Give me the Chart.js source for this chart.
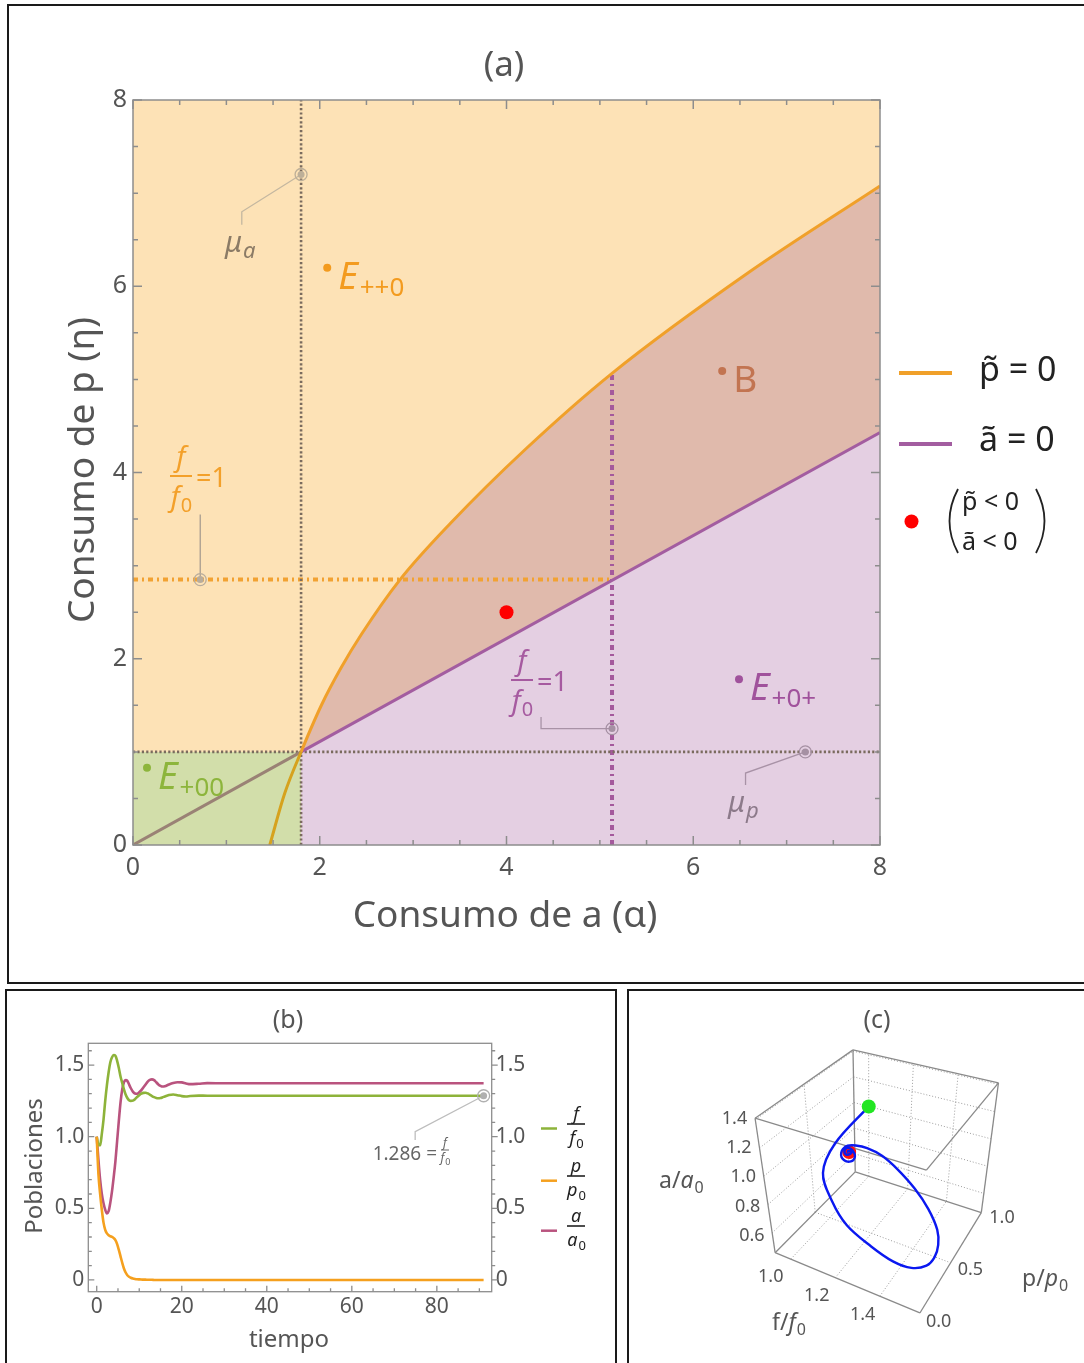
<!DOCTYPE html>
<html lang="es">
<head>
<meta charset="utf-8">
<title>Diagrama de fases</title>
<script src="https://cdn.jsdelivr.net/npm/chart.js@4.4.1/dist/chart.umd.min.js"></script>
<style>
  html, body { margin: 0; padding: 0; background: #fff; }
  body { position: relative; width: 1084px; height: 1363px; overflow: hidden; }
  canvas { position: absolute; }
  .marco { position: absolute; border: 2px solid #1a1a1a; box-sizing: border-box; pointer-events: none; }
</style>
</head>
<body>
<canvas id="chartA" width="1084" height="985" style="left:0;top:0"></canvas>
<canvas id="chartB" width="622" height="375" style="left:0;top:988px"></canvas>
<canvas id="chartC" width="462" height="375" style="left:622px;top:988px"></canvas>
<div class="marco" style="left:7px;top:4px;width:1080px;height:980px"></div>
<div class="marco" style="left:5px;top:989px;width:612px;height:380px"></div>
<div class="marco" style="left:627px;top:989px;width:460px;height:380px"></div>
<script>
// ---- (a) plano alfa-eta
const alphaP = [1.465, 1.625, 1.80, 2.02, 2.23, 2.45, 2.86, 3.4, 4.2, 5.13, 6.6, 8.0];
const etaP   = [0, 0.555, 1.0, 1.506, 1.905, 2.268, 2.85, 3.455, 4.247, 5.065, 6.153, 7.077];
const alphaA = [0, 1.80, 8];
const etaA   = [0, 1.0, 4.43];
const muA = 1.80, muP = 1.0;
const alphaF1 = 5.13, etaF1 = 2.85, etaTopeF1 = 5.065;
const puntoRojo = { x: 4.0, y: 2.5 };
const ticksA = [0, 2, 4, 6, 8];

// ---- (b) poblaciones en el tiempo
const tiempo = [0, 0.4, 0.8, 1.2, 1.6, 2.0, 2.4, 2.8, 3.2, 3.6, 4.0, 4.4, 4.8, 5.2, 5.6, 6.0, 6.4, 6.8, 7.2, 7.6,
  8.0, 8.5, 9.0, 9.5, 10, 10.5, 11, 11.5, 12, 12.5, 13, 13.5, 14, 14.5, 15, 15.5, 16, 17, 18, 19,
  20, 21, 22, 24, 26, 30, 40, 50, 60, 70, 80, 91];
const fVals = [1.0, 0.945, 0.94, 1.02, 1.12, 1.25, 1.36, 1.45, 1.52, 1.555, 1.57, 1.565, 1.53, 1.48, 1.42, 1.375, 1.33, 1.295, 1.27, 1.255,
  1.25, 1.252, 1.262, 1.277, 1.29, 1.30, 1.306, 1.307, 1.302, 1.293, 1.284, 1.276, 1.27, 1.268, 1.27, 1.275, 1.281, 1.291, 1.295, 1.29,
  1.283, 1.281, 1.284, 1.287, 1.286, 1.286, 1.286, 1.286, 1.286, 1.286, 1.286, 1.286];
const pVals = [1.0, 0.74, 0.60, 0.49, 0.40, 0.35, 0.325, 0.312, 0.305, 0.30, 0.292, 0.278, 0.25, 0.21, 0.165, 0.12, 0.08, 0.052, 0.033, 0.022,
  0.015, 0.01, 0.007, 0.005, 0.004, 0.003, 0.002, 0.002, 0.001, 0.001, 0.001, 0, 0, 0, 0, 0, 0, 0, 0, 0,
  0, 0, 0, 0, 0, 0, 0, 0, 0, 0, 0, 0];
const aVals = [1.0, 0.84, 0.70, 0.60, 0.535, 0.49, 0.465, 0.48, 0.54, 0.62, 0.72, 0.83, 0.97, 1.11, 1.24, 1.33, 1.38, 1.395, 1.39, 1.365,
  1.34, 1.315, 1.302, 1.30, 1.31, 1.325, 1.345, 1.365, 1.385, 1.397, 1.40, 1.395, 1.38, 1.365, 1.355, 1.35, 1.352, 1.365, 1.375, 1.38,
  1.379, 1.372, 1.367, 1.37, 1.374, 1.373, 1.373, 1.373, 1.373, 1.373, 1.373, 1.373];
const ticksT = [0, 20, 40, 60, 80];
const ticksPob = [0, 0.5, 1.0, 1.5];
const fFinal = 1.286;

// ---- (c) ejes del cubo
const rangoF = [0.93, 1.58], rangoP = [0, 1.0], rangoA = [0.46, 1.41];
const ticksF3 = [1.0, 1.2, 1.4], ticksP3 = [0, 0.5, 1.0], ticksA3 = [0.6, 0.8, 1.0, 1.2, 1.4];

const FF = '"Noto Sans", "DejaVu Sans", sans-serif';
Chart.defaults.font.family = FF;
Chart.defaults.animation = false;
Chart.defaults.events = [];
Chart.defaults.plugins.legend.display = false;
Chart.defaults.plugins.tooltip.enabled = false;

const pts = (xs, ys) => xs.map((x, i) => ({ x, y: ys[i] }));

function txt(ctx, s, x, y, o = {}) {
  ctx.save();
  ctx.font = (o.italic ? 'italic ' : '') + (o.size || 20) + 'px ' + FF;
  ctx.fillStyle = o.color || '#555';
  ctx.textAlign = o.align || 'left';
  ctx.textBaseline = o.base || 'alphabetic';
  if (o.rot) { ctx.translate(x, y); ctx.rotate(o.rot); ctx.fillText(s, 0, 0); }
  else ctx.fillText(s, x, y);
  const w = ctx.measureText(s).width;
  ctx.restore();
  return w;
}
function ancho(ctx, s, size, italic) {
  ctx.save(); ctx.font = (italic ? 'italic ' : '') + size + 'px ' + FF;
  const w = ctx.measureText(s).width; ctx.restore(); return w;
}
// texto con subindice, x = borde izquierdo, y = linea base
function conSub(ctx, base, s, x, y, o) {
  const wb = txt(ctx, base, x, y, { size: o.size, color: o.color, italic: o.italic });
  txt(ctx, s, x + wb + (o.gap || 1), y + o.drop, { size: o.sub, color: o.color, italic: o.subItalic });
  return wb;
}
// "a/a0" con la segunda letra en cursiva
function cociente(ctx, l, x, y, size, color) {
  const w1 = txt(ctx, l + '/', x, y, { size, color });
  conSub(ctx, l, '0', x + w1, y, { size, sub: Math.round(size * 0.7), color, italic: true, drop: 5 });
}
function fraccion(ctx, letra, cx, yBar, o) {
  const wn = ancho(ctx, letra, o.size, true);
  const wd = wn + ancho(ctx, '0', o.sub, false);
  txt(ctx, letra, cx - wn / 2, yBar - o.up, { size: o.size, color: o.color, italic: true });
  ctx.save(); ctx.strokeStyle = o.color; ctx.lineWidth = o.bar || 1.6;
  ctx.beginPath(); ctx.moveTo(cx - o.w / 2, yBar); ctx.lineTo(cx + o.w / 2, yBar); ctx.stroke(); ctx.restore();
  conSub(ctx, letra, '0', cx - wd / 2, yBar + o.down, { size: o.size, sub: o.sub, color: o.color, italic: true, drop: o.size * 0.22 });
}
function marcador(ctx, x, y, color) {
  ctx.save(); ctx.strokeStyle = color; ctx.lineWidth = 1.3;
  ctx.beginPath(); ctx.arc(x, y, 6, 0, 2 * Math.PI); ctx.stroke();
  ctx.fillStyle = color; ctx.beginPath(); ctx.arc(x, y, 3.5, 0, 2 * Math.PI); ctx.fill(); ctx.restore();
}
function guia(ctx, lista, color) {
  ctx.save(); ctx.strokeStyle = color; ctx.lineWidth = 1.3; ctx.beginPath();
  lista.forEach((p, i) => i ? ctx.lineTo(p[0], p[1]) : ctx.moveTo(p[0], p[1]));
  ctx.stroke(); ctx.restore();
}

// ======================= (a) =======================
const curvaP = pts(alphaP, etaP);
const rectaA = pts(alphaA, etaA);
const etiquetasA = [
  { x: 2.08, y: 6.20, color: '#F39B1F', base: 'E', sub: '++0', italic: true },
  { x: 6.31, y: 5.09, color: '#C27451', base: 'B', sub: '', italic: false },
  { x: 6.49, y: 1.78, color: '#A0529C', base: 'E', sub: '+0+', italic: true },
  { x: 0.15, y: 0.83, color: '#8DB53C', base: 'E', sub: '+00', italic: true }
];
const PUNTEADO = [2.2, 2.2], RAYAPUNTO = [5, 4, 2, 4];
const sinPunto = { pointRadius: 0, fill: false };

const decorA = {
  id: 'decorA',
  beforeDraw(chart) {
    const { ctx, chartArea: ca } = chart;
    ctx.save(); ctx.fillStyle = '#FDE2B6';
    ctx.fillRect(ca.left, ca.top, ca.right - ca.left, ca.bottom - ca.top); ctx.restore();
  },
  afterDraw(chart) {
    const { ctx, chartArea: ca, scales: { x, y } } = chart;
    const X = v => x.getPixelForValue(v), Y = v => y.getPixelForValue(v);
    ctx.save();
    ctx.strokeStyle = '#8d8d8d'; ctx.lineWidth = 1.5;
    ctx.strokeRect(ca.left, ca.top, ca.right - ca.left, ca.bottom - ca.top);
    ctx.beginPath();
    for (let k = 0; k <= 16; k++) {
      const v = k * 0.5, len = k % 4 === 0 ? 9 : 5;
      ctx.moveTo(X(v), ca.bottom); ctx.lineTo(X(v), ca.bottom - len);
      ctx.moveTo(X(v), ca.top); ctx.lineTo(X(v), ca.top + len);
      ctx.moveTo(ca.left, Y(v)); ctx.lineTo(ca.left + len, Y(v));
      ctx.moveTo(ca.right, Y(v)); ctx.lineTo(ca.right - len, Y(v));
    }
    ctx.stroke(); ctx.restore();

    txt(ctx, '(a)', 504, 66, { size: 35, align: 'center', base: 'middle' });
    txt(ctx, 'Consumo de a (α)', 505, 916, { size: 37, align: 'center', base: 'middle' });
    txt(ctx, 'Consumo de p (η)', 83, 470, { size: 37, align: 'center', base: 'middle', rot: -Math.PI / 2 });

    // etiquetas de regiones
    etiquetasA.forEach(e => {
      const px = X(e.x), py = Y(e.y);
      const size = e.italic ? 38 : 37;
      conSub(ctx, e.base, e.sub, px + 11, py + 21, { size, sub: 26, color: e.color, italic: e.italic, drop: 7, gap: 2 });
    });

    // mu_a
    guia(ctx, [[X(muA), Y(7.2)], [X(1.165), Y(6.80)], [X(1.165), Y(6.66)]], '#C4B7A0');
    marcador(ctx, X(muA), Y(7.2), '#BDAF98');
    conSub(ctx, 'μ', 'a', 225, 252, { size: 29, sub: 22, color: '#8B7B66', italic: true, subItalic: true, drop: 6 });
    // mu_p
    guia(ctx, [[X(7.2), Y(muP)], [X(6.56), Y(0.773)], [X(6.56), Y(0.645)]], '#A892A6');
    marcador(ctx, X(7.2), Y(muP), '#A590A3');
    conSub(ctx, 'μ', 'p', 728, 812, { size: 29, sub: 22, color: '#8C7A8A', italic: true, subItalic: true, drop: 6 });
    // f/f0 = 1 (naranja)
    guia(ctx, [[X(0.72), Y(etaF1)], [X(0.72), Y(3.55)]], '#A89D90');
    marcador(ctx, X(0.72), Y(etaF1), '#B8AC9C');
    fraccion(ctx, 'f', 181, 476, { size: 28, sub: 20, color: '#F3A02A', up: 10, down: 30, w: 22, bar: 2 });
    txt(ctx, '=1', 196, 487, { size: 27, color: '#F3A02A' });
    // f/f0 = 1 (morado)
    guia(ctx, [[X(alphaF1), Y(1.25)], [X(4.37), Y(1.25)], [X(4.37), Y(1.375)]], '#A892A6');
    marcador(ctx, X(alphaF1), Y(1.25), '#A590A3');
    fraccion(ctx, 'f', 522, 680, { size: 28, sub: 20, color: '#A65AA0', up: 10, down: 30, w: 22, bar: 2 });
    txt(ctx, '=1', 537, 691, { size: 27, color: '#A65AA0' });

    // leyenda
    ctx.save(); ctx.lineWidth = 4;
    ctx.strokeStyle = '#F0A02A'; ctx.beginPath(); ctx.moveTo(899, 373); ctx.lineTo(952, 373); ctx.stroke();
    ctx.strokeStyle = '#A35DA0'; ctx.beginPath(); ctx.moveTo(899, 444); ctx.lineTo(952, 444); ctx.stroke();
    ctx.fillStyle = '#ff0000'; ctx.beginPath(); ctx.arc(911.5, 521.5, 7, 0, 2 * Math.PI); ctx.fill();
    ctx.strokeStyle = '#222'; ctx.lineWidth = 1.8;
    ctx.beginPath(); ctx.moveTo(958, 489); ctx.quadraticCurveTo(941, 521, 958, 553); ctx.stroke();
    ctx.beginPath(); ctx.moveTo(1036, 489); ctx.quadraticCurveTo(1053, 521, 1036, 553); ctx.stroke();
    ctx.restore();
    txt(ctx, 'p\u0303 = 0', 979, 381, { size: 34, color: '#222' });
    txt(ctx, 'a\u0303 = 0', 979, 451, { size: 34, color: '#222' });
    txt(ctx, 'p\u0303 < 0', 962, 510, { size: 25, color: '#222' });
    txt(ctx, 'a\u0303 < 0', 962, 550, { size: 25, color: '#222' });
  }
};

new Chart(document.getElementById('chartA'), {
  type: 'line',
  data: {
    datasets: [
      { data: [puntoRojo], showLine: false, pointRadius: 7, pointBackgroundColor: '#ff0000', pointBorderWidth: 0 },
      { data: etiquetasA.map(e => ({ x: e.x, y: e.y })), showLine: false, pointRadius: 4,
        pointBackgroundColor: etiquetasA.map(e => e.color), pointBorderWidth: 0 },
      { label: 'p̃ = 0', data: curvaP, borderColor: '#F0A02A', borderWidth: 3, cubicInterpolationMode: 'monotone', ...sinPunto,
        segment: { borderColor: c => c.p0.parsed.x < muA - 1e-6 ? '#D6A21E' : undefined } },
      { label: 'ã = 0', data: rectaA, borderColor: '#A35DA0', borderWidth: 3, ...sinPunto,
        segment: { borderColor: c => c.p0.parsed.x < muA - 1e-6 ? '#9A8275' : undefined } },
      { data: [{ x: muA, y: 0 }, { x: muA, y: 8 }], borderColor: '#7A6B5E', borderWidth: 2.6, borderDash: PUNTEADO, ...sinPunto },
      { data: [{ x: 0, y: muP }, { x: 8, y: muP }], borderColor: '#7A6B5E', borderWidth: 2.6, borderDash: PUNTEADO, ...sinPunto },
      { data: [{ x: 0, y: etaF1 }, { x: alphaF1, y: etaF1 }], borderColor: '#F2A232', borderWidth: 4, borderDash: RAYAPUNTO, ...sinPunto },
      { data: [{ x: alphaF1, y: 0 }, { x: alphaF1, y: etaTopeF1 }], borderColor: '#A4599C', borderWidth: 4, borderDash: RAYAPUNTO, ...sinPunto },
      { data: curvaP.filter(p => p.x >= muA), borderWidth: 0, pointRadius: 0, cubicInterpolationMode: 'monotone',
        fill: 9, backgroundColor: '#E0BAAC' },
      { data: rectaA.filter(p => p.x >= muA), borderWidth: 0, pointRadius: 0, fill: 'origin', backgroundColor: '#E4CFE2' },
      { data: [{ x: 0, y: muP }, { x: muA, y: muP }], borderWidth: 0, pointRadius: 0, fill: 'origin', backgroundColor: '#D2DEAA' }
    ]
  },
  options: {
    responsive: false, devicePixelRatio: 1,
    layout: { padding: { top: 100, right: 204, left: 0, bottom: 0 } },
    scales: {
      x: { type: 'linear', min: 0, max: 8,
        afterBuildTicks: s => { s.ticks = ticksA.map(v => ({ value: v })); },
        afterFit: s => { s.height = 985 - 845; },
        ticks: { font: { size: 25 }, color: '#555', padding: 8, maxRotation: 0 },
        grid: { display: false, drawTicks: false }, border: { display: false } },
      y: { type: 'linear', min: 0, max: 8,
        afterBuildTicks: s => { s.ticks = ticksA.map(v => ({ value: v })); },
        afterFit: s => { s.width = 133; },
        ticks: { font: { size: 25 }, color: '#555', padding: 6 },
        grid: { display: false, drawTicks: false }, border: { display: false } }
    }
  },
  plugins: [decorA]
});

// ======================= (b) =======================
const decorB = {
  id: 'decorB',
  afterDraw(chart) {
    const { ctx, chartArea: ca, scales: { x, y } } = chart;
    const X = v => x.getPixelForValue(v), Y = v => y.getPixelForValue(v);
    ctx.save();
    ctx.strokeStyle = '#8d8d8d'; ctx.lineWidth = 1.3;
    ctx.strokeRect(ca.left, ca.top, ca.right - ca.left, ca.bottom - ca.top);
    ctx.beginPath();
    for (let k = 0; k <= 16; k++) {
      const v = k * 0.1, len = k % 5 === 0 ? 6 : 3.5;
      ctx.moveTo(ca.left, Y(v)); ctx.lineTo(ca.left + len, Y(v));
      ctx.moveTo(ca.right, Y(v)); ctx.lineTo(ca.right + len, Y(v));
    }
    for (let k = 0; k <= 18; k++) {
      const v = k * 5, len = k % 4 === 0 ? 6 : 3.5;
      ctx.moveTo(X(v), ca.bottom); ctx.lineTo(X(v), ca.bottom - len);
    }
    ctx.stroke(); ctx.restore();

    txt(ctx, '(b)', 288, 33, { size: 25, align: 'center', base: 'middle' });
    txt(ctx, 'Poblaciones', 35, 178, { size: 24, align: 'center', base: 'middle', rot: -Math.PI / 2 });
    txt(ctx, 'tiempo', 289, 352, { size: 24, align: 'center', base: 'middle' });

    // leyenda
    const ley = [['f', '#8DB33A', 140.5, 136], ['p', '#F5A01E', 192.7, 188], ['a', '#B9537E', 242.7, 238]];
    ley.forEach(([l, c, yl, yb]) => {
      ctx.save(); ctx.strokeStyle = c; ctx.lineWidth = 2.5;
      ctx.beginPath(); ctx.moveTo(541, yl); ctx.lineTo(557, yl); ctx.stroke(); ctx.restore();
      fraccion(ctx, l, 576, yb, { size: 18, sub: 13, color: '#222', up: 4, down: 20, w: 18, bar: 1.6 });
    });

    // anotacion del valor final
    guia(ctx, [[X(91), Y(fFinal)], [X(74.9), Y(1.035)], [X(74.9), Y(0.977)]], '#BDBDBD');
    marcador(ctx, X(91), Y(fFinal), '#B0B0B0');
    txt(ctx, fFinal.toFixed(3) + ' =', 437, 172, { size: 19, color: '#666', align: 'right' });
    fraccion(ctx, 'f', 445, 162, { size: 12, sub: 9, color: '#666', up: 3, down: 12, w: 8, bar: 1 });
  }
};

const ejeY = (pos, ancho) => ({
  type: 'linear', position: pos, min: -0.082, max: 1.652,
  afterBuildTicks: s => { s.ticks = ticksPob.map(v => ({ value: v })); },
  afterFit: s => { s.width = ancho; },
  ticks: { font: { size: 21 }, color: '#555', padding: 4, callback: v => v === 0 ? '0' : v.toFixed(1) },
  grid: { display: false, drawTicks: false }, border: { display: false }
});

new Chart(document.getElementById('chartB'), {
  type: 'line',
  data: {
    datasets: [
      { label: 'p/p0', data: pts(tiempo, pVals), borderColor: '#F5A01E', borderWidth: 2.6, cubicInterpolationMode: 'monotone', ...sinPunto },
      { label: 'f/f0', data: pts(tiempo, fVals), borderColor: '#8DB33A', borderWidth: 2.6, cubicInterpolationMode: 'monotone', ...sinPunto },
      { label: 'a/a0', data: pts(tiempo, aVals), borderColor: '#B9537E', borderWidth: 2.6, cubicInterpolationMode: 'monotone', ...sinPunto }
    ]
  },
  options: {
    responsive: false, devicePixelRatio: 1,
    layout: { padding: { top: 55.3, left: 0, right: 0, bottom: 0 } },
    scales: {
      x: { type: 'linear', min: -1.98, max: 92.9,
        afterBuildTicks: s => { s.ticks = ticksT.map(v => ({ value: v })); },
        afterFit: s => { s.height = 375 - 303.7; },
        ticks: { font: { size: 21 }, color: '#555', padding: 3, maxRotation: 0 },
        grid: { display: false, drawTicks: false }, border: { display: false } },
      y: ejeY('left', 88.3),
      y2: ejeY('right', 622 - 491.7)
    }
  },
  plugins: [decorB]
});

// ======================= (c) =======================
// proyeccion del cubo: esquinas en px del lienzo (c)
const esq = {
  A: [130, 128], B: [231, 57], C: [381, 91.3], D: [306.7, 182],
  E: [150.7, 267.7], F: [233.3, 183.7], G: [363.3, 226], H: [300, 330.3]
};
function proyectar(f, p, a) {
  const u = (f - rangoF[0]) / (rangoF[1] - rangoF[0]);
  const v = (p - rangoP[0]) / (rangoP[1] - rangoP[0]);
  const w = (a - rangoA[0]) / (rangoA[1] - rangoA[0]);
  const lerp = (P, Q, t) => [P[0] + (Q[0] - P[0]) * t, P[1] + (Q[1] - P[1]) * t];
  const abajo = lerp(lerp(esq.E, esq.H, u), lerp(esq.F, esq.G, u), v);
  const arriba = lerp(lerp(esq.A, esq.D, u), lerp(esq.B, esq.C, u), v);
  const r = lerp(abajo, arriba, w);
  return { x: r[0], y: r[1] };
}
const [f0, f1] = rangoF, [p0, p1] = rangoP, [a0, a1] = rangoA;
const aristas = [
  [[f0, p0, a1], [f0, p1, a1]], [[f0, p1, a1], [f1, p1, a1]], [[f1, p1, a1], [f1, p0, a1]], [[f1, p0, a1], [f0, p0, a1]],
  [[f0, p0, a0], [f0, p1, a0]], [[f0, p1, a0], [f1, p1, a0]], [[f1, p1, a0], [f1, p0, a0]], [[f1, p0, a0], [f0, p0, a0]],
  [[f0, p0, a0], [f0, p0, a1]], [[f0, p1, a0], [f0, p1, a1]], [[f1, p1, a0], [f1, p1, a1]]
];
const rejilla = [];
ticksA3.forEach(a => { rejilla.push([[f0, p0, a], [f0, p1, a]]); rejilla.push([[f0, p1, a], [f1, p1, a]]); });
ticksF3.forEach(f => { rejilla.push([[f, p1, a0], [f, p1, a1]]); rejilla.push([[f, p0, a0], [f, p1, a0]]); });
[0.5].forEach(p => { rejilla.push([[f0, p, a0], [f0, p, a1]]); rejilla.push([[f0, p, a0], [f1, p, a0]]); });

const seg3 = (s, color, dash, wdt) => ({
  data: s.map(q => proyectar(...q)), borderColor: color, borderWidth: wdt, borderDash: dash, ...sinPunto
});
const trayectoria = tiempo.map((t, i) => proyectar(fVals[i], pVals[i], aVals[i]));
const nUlt = tiempo.length - 1;

const decorC = {
  id: 'decorC',
  afterDraw(chart) {
    const { ctx } = chart;
    txt(ctx, '(c)', 255, 33, { size: 25, align: 'center', base: 'middle' });
    ticksA3.forEach(a => {
      const q = proyectar(f0, p0, a);
      txt(ctx, a.toFixed(1), q.x - 5, q.y + 1, { size: 18, color: '#555', align: 'right', base: 'middle' });
    });
    ticksF3.forEach(f => {
      const q = proyectar(f, p0, a0);
      txt(ctx, f.toFixed(1), q.x - 18, q.y + 14, { size: 18, color: '#555', align: 'center', base: 'middle' });
    });
    ticksP3.forEach(p => {
      const q = proyectar(f1, p, a0);
      txt(ctx, p.toFixed(1), q.x + 4, q.y + 4, { size: 18, color: '#555', align: 'left', base: 'middle' });
    });
    cociente(ctx, 'a', 37, 200, 23, '#555');
    cociente(ctx, 'f', 150, 342, 23, '#555');
    cociente(ctx, 'p', 400, 298, 23, '#555');
  }
};

new Chart(document.getElementById('chartC'), {
  type: 'line',
  data: {
    datasets: [
      { data: [trayectoria[0]], showLine: false, pointRadius: 7, pointBackgroundColor: '#22e622', pointBorderWidth: 0 },
      { data: trayectoria, borderColor: '#0a18f0', borderWidth: 2.4, tension: 0.35, ...sinPunto },
      { data: [trayectoria[nUlt]], showLine: false, pointRadius: 7, pointBackgroundColor: '#ff1010', pointBorderWidth: 0 },
      ...aristas.map(s => seg3(s, '#8a8a8a', [], 1.3)),
      ...rejilla.map(s => seg3(s, '#9c9c9c', [1, 2], 1))
    ]
  },
  options: {
    responsive: false, devicePixelRatio: 1,
    layout: { padding: 0 },
    scales: {
      x: { type: 'linear', min: 0, max: 462, display: false },
      y: { type: 'linear', min: 0, max: 375, reverse: true, display: false }
    }
  },
  plugins: [decorC]
});
</script>
</body>
</html>
